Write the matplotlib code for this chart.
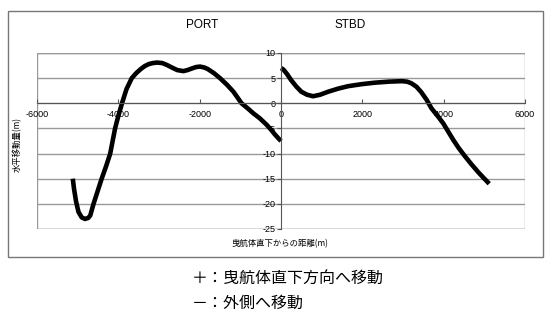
import numpy as np
import matplotlib.pyplot as plt
from matplotlib.patches import Rectangle

# values
port_x = [-5120, -5090, -5040, -4980, -4900, -4820, -4740, -4690, -4610, -4510,
          -4410, -4300, -4200, -4140, -4080, -4000, -3910, -3800, -3670, -3560,
          -3450, -3350, -3250, -3150, -3050, -2920, -2800, -2680, -2550, -2400,
          -2300, -2200, -2090, -1990, -1880, -1800, -1650, -1500, -1330, -1170,
          -970, -820, -680, -520, -350, -240, -150, -60, 0]
port_y = [-15, -17, -19.5, -21.6, -22.7, -23.0, -22.8, -22.3, -20, -17.5,
          -15, -12.5, -10, -7.5, -5, -2.5, 0, 2.8, 5, 6,
          6.8, 7.4, 7.8, 8.0, 8.1, 8.0, 7.6, 7.1, 6.6, 6.4,
          6.6, 6.9, 7.2, 7.3, 7.1, 6.8, 6.0, 5.0, 3.7, 2.3,
          0, -1.0, -2.0, -3.0, -4.3, -5.3, -6.2, -7.0, -7.5]

stbd_x = [0, 60, 150, 250, 380, 500, 640, 790, 960, 1160,
          1400, 1650, 1980, 2310, 2650, 2970, 3100, 3200, 3330, 3450,
          3580, 3700, 3850, 3990, 4110, 4230, 4370, 4520, 4680, 4850,
          4990, 5120]
stbd_y = [7, 6.7, 5.8, 4.6, 3.3, 2.3, 1.7, 1.4, 1.7, 2.3,
          2.9, 3.4, 3.8, 4.1, 4.3, 4.4, 4.3, 4.0, 3.3, 2.2,
          0.7, -1, -2.5, -4, -5.6, -7.2, -8.9, -10.5, -12.1, -13.7,
          -14.9, -16]

xticks = [-6000, -4000, -2000, 0, 2000, 4000, 6000]
yticks = [10, 5, 0, -5, -10, -15, -20, -25]

jp = ['Noto Sans CJK JP', 'DejaVu Sans']
lat = 'Liberation Sans'

W, H = 552, 318
fig = plt.figure(figsize=(W / 100, H / 100), dpi=100)

# outer chart frame
fig.patches.append(Rectangle((8 / W, 1 - 257 / H), 535 / W, 246 / H,
                             transform=fig.transFigure, fill=False,
                             ec='#777777', lw=1))

ax = fig.add_axes([37 / W, 1 - 229 / H, 488 / W, 176 / H])
ax.set_xlim(-6000, 6000)
ax.set_ylim(-25, 10)

for s in ['top', 'right']:
    ax.spines[s].set_visible(False)
ax.spines['left'].set_position(('data', 0))
ax.spines['bottom'].set_position(('data', 0))
ax.spines['left'].set_color('#555555')
ax.spines['bottom'].set_color('#555555')

ax.add_patch(Rectangle((0, 0), 1, 1, transform=ax.transAxes, fill=False,
                       ec='#999999', lw=1, zorder=0.5))

ax.set_xticks(xticks)
ax.set_yticks(yticks)
ax.set_xticklabels([str(v) for v in xticks], fontsize=6.5, family=lat)
ax.set_yticklabels([str(v) for v in yticks], fontsize=6.5, family=lat)
ax.tick_params(axis='x', direction='in', length=3, pad=5, color='#555555')
ax.tick_params(axis='y', direction='out', length=3, pad=1, color='#555555')
ax.yaxis.grid(True, color='#999999', lw=1)
ax.set_axisbelow(True)

ax.plot(port_x, port_y, color='black', lw=3.3, solid_joinstyle='round',
        solid_capstyle='butt')
ax.plot(stbd_x, stbd_y, color='black', lw=3.3, solid_joinstyle='round',
        solid_capstyle='butt')

fig.text(202 / W, 1 - 25 / H, 'PORT', fontsize=8.5, family=lat,
         ha='center', va='center')
fig.text(350 / W, 1 - 25 / H, 'STBD', fontsize=8.5, family=lat,
         ha='center', va='center')

fig.text(17 / W, 1 - 145 / H, '水平移動量(m)', rotation=90, fontsize=6,
         family=jp, ha='center', va='center')
fig.text(280 / W, 1 - 244 / H, '曳航体直下からの距離(m)', fontsize=6,
         family=jp, ha='center', va='center')

fig.text(192 / W, 1 - 278 / H, '＋：曳航体直下方向へ移動', fontsize=11.5,
         family=jp, ha='left', va='center')
fig.text(192 / W, 1 - 303 / H, '－：外側へ移動', fontsize=11.5,
         family=jp, ha='left', va='center')

fig.savefig('out.png', dpi=100)
